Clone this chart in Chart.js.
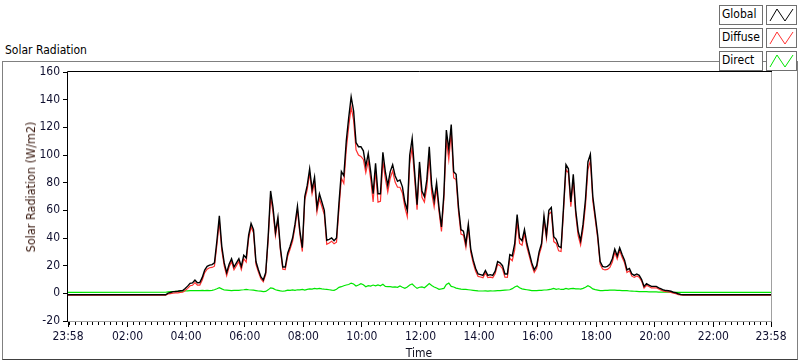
<!DOCTYPE html>
<html>
<head>
<meta charset="utf-8">
<title>Solar Radiation</title>
<script src="https://cdn.jsdelivr.net/npm/chart.js@4.4.1/dist/chart.umd.min.js"></script>
<style>
  body { margin: 0; background: #fff; }
  #wrap { position: relative; width: 800px; height: 361px; overflow: hidden; background: #fff;
          font-family: "DejaVu Sans Condensed", "Liberation Sans Narrow", "Liberation Sans", sans-serif; font-size: 12px; color: #000; }
  #frame { position: absolute; left: 2px; top: 61px; width: 796px; height: 299px; border: 1px solid #808080; border-bottom-color: #404040; box-sizing: border-box; }
  #title { position: absolute; left: 5px; top: 43px; line-height: 14px; }
  #chart { position: absolute; left: 0; top: 0; }
  #ytitle { position: absolute; left: 31px; top: 187px; transform: translate(-50%, -50%) rotate(-90deg); white-space: nowrap; color: #3a1a10; line-height: 14px; font-size: 12.5px; }
  #xtitle { position: absolute; left: 419px; top: 346px; transform: translateX(-50%); line-height: 14px; color: #101020; }
  .lab { position: absolute; left: 719px; width: 44px; height: 20px; border: 1px solid #707070; background: #fff; box-sizing: border-box; padding-left: 2px; line-height: 17px; }
  .ico { position: absolute; left: 766px; width: 31px; height: 20px; border: 1px solid #707070; background: #fff; box-sizing: border-box; }
  .ico svg { position: absolute; left: 0; top: 0; }
</style>
</head>
<body>
<div id="wrap">
  <div id="frame"></div>
  <div id="title">Solar Radiation</div>
  <canvas id="chart" width="800" height="361"></canvas>
  <div id="ytitle">Solar Radiation (W/m2)</div>
  <div id="xtitle">Time</div>
  <div id="legend"></div>
</div>
<script>
// x axis in minutes from 23:58
const tickValues = [0, 122, 242, 362, 482, 602, 722, 842, 962, 1082, 1202, 1322, 1440];
const tickLabels = ['23:58', '02:00', '04:00', '06:00', '08:00', '10:00', '12:00', '14:00', '16:00', '18:00', '20:00', '22:00', '23:58'];
const seriesNames = ['Global', 'Diffuse', 'Direct'];
const seriesColors = ['#000000', '#ff3030', '#00e600'];

// samples every 5 min starting 03:18 (200 min after 23:58)
const sampleStart = 200;
const sampleStep = 5;

const nightGlobal = -1.0;
const nightDiffuse = -1.3;
const nightDirect = 0.7;

const globalVals = [
  -1.0, 0.2, 0.6, 1.2, 1.3, 1.5, 1.9, 2.0, 3.5, 5.2,
  7.2, 7.5, 9.6, 7.6, 7.8, 11.5, 16.8, 19.5, 20.4, 20.8,
  22, 38, 56, 34, 22, 15, 21, 25, 19, 22,
  25, 19.5, 27.5, 25.5, 42, 50.5, 46, 23, 17, 12,
  9.6, 15, 40.8, 74, 62, 44, 55, 33, 19, 19,
  29, 34, 40, 50, 63, 45, 33, 70, 78, 90,
  75, 84, 62, 72, 66, 60, 38.4, 39, 40, 38,
  40, 65, 88, 85, 110, 127, 142, 132, 109, 106,
  106, 103, 92, 101, 88, 72, 94, 72, 72, 102,
  88, 78, 88, 93, 85, 81, 82, 77, 66, 60,
  100, 112, 88, 64, 95, 74, 70, 82, 106, 78,
  67, 80, 62, 48, 72, 118, 104, 122, 88, 86,
  62, 46, 45, 36, 50, 32, 24, 18, 14, 13.5,
  13, 16.5, 13, 13.5, 13, 16, 23, 22, 20, 14,
  14, 28, 27, 36, 57, 40, 38, 46, 36, 29,
  22, 17, 20, 30, 36, 56, 42, 60, 62, 41,
  39, 34, 33, 62, 93, 90, 66, 86, 60, 45,
  38, 50, 68, 95, 100.5, 70, 56, 42, 23, 19.5,
  19, 19.5, 21, 25, 32, 27, 33, 28, 24, 17,
  18, 14, 13, 14, 13, 10, 5, 7, 6, 5,
  5, 5, 4, 3.2, 2.4, 2, 1.9, 1.5, 0.8, 0.4,
  -0.3, -0.8, -1.0
];

const diffuseVals = [
  -1.3, -0.5, -0.2, 0.2, 0.3, 0.4, 0.7, 0.8, 2.0, 3.6,
  5.5, 5.8, 7.8, 6.0, 6.0, 9.6, 15.0, 17.5, 18.5, 18.7,
  19.6, 35, 52, 31, 19.8, 12.8, 19, 23, 17, 20,
  23, 17.2, 25, 22.6, 39.5, 48, 43.8, 21, 15.3, 10.5,
  8.4, 13.6, 38.4, 70, 58.5, 41.5, 52.8, 31.2, 17.5, 17.2,
  26.8, 32, 37.5, 47.8, 60.5, 42.5, 30.2, 67.6, 75, 86.8,
  72, 80.4, 58.7, 68.4, 62.8, 57, 35.5, 36.4, 37.7, 35.8,
  37, 60.7, 83.2, 79.5, 104, 120.6, 134.6, 125.2, 103.7, 100,
  99, 96.8, 87.2, 95.5, 82.8, 66, 88.6, 65.9, 66.5, 95.5,
  83, 73.2, 83.2, 88.5, 80.4, 76.7, 76.7, 72.6, 62.4, 55.4,
  94, 105.3, 83, 60.4, 90.6, 69.4, 66, 76.5, 99, 72.4,
  62.4, 76.2, 59.1, 44.8, 68.4, 111.5, 96.6, 117, 83.4, 82.2,
  58.6, 42.9, 42.1, 33.2, 47.4, 29.6, 21.8, 16, 12.2, 11.8,
  11.3, 14.7, 11.4, 11.7, 11.3, 14.2, 21.1, 20, 17.8, 11.7,
  11.6, 25.4, 23.6, 31.4, 51.7, 36, 34.8, 43.1, 33.4, 26.7,
  20, 15.1, 18.1, 27.9, 33.8, 53.6, 39.6, 57.3, 59, 37.4,
  36.1, 30.7, 30.2, 59.1, 89.5, 87, 62.6, 82.4, 56.8, 41.7,
  34.9, 46.4, 63.6, 89.5, 95.9, 66.8, 53.3, 39.7, 21.1, 17.5,
  16.9, 17.3, 18.7, 22.6, 29.7, 24.8, 30.9, 26, 22.1, 15.1,
  16.3, 12.4, 11.5, 12.6, 11.7, 8.8, 3.8, 5.8, 4.9, 3.9,
  4, 4, 3.1, 2.3, 1.5, 1.2, 1.1, 0.7, 0.1, -0.3,
  -0.9, -1.2, -1.3
];

const directVals = [
  0.8, 1.0, 1.2, 1.3, 1.4, 1.5, 1.5, 1.6, 1.7, 1.8,
  1.9, 1.9, 2.0, 1.9, 2.0, 2.1, 1.9, 2.1, 2.0, 2.2,
  2.6, 3.3, 4.1, 3.2, 2.4, 2.3, 2.2, 2.0, 2.1, 2.2,
  2.1, 2.4, 2.6, 2.9, 2.6, 2.4, 2.3, 2.0, 1.7, 1.6,
  1.3, 1.4, 2.5, 4.0, 3.6, 2.6, 2.2, 1.8, 1.5, 1.8,
  2.3, 2.1, 2.5, 2.2, 2.6, 2.5, 2.8, 2.4, 2.9, 3.2,
  3.0, 3.6, 3.3, 3.6, 3.2, 3.0, 2.9, 2.6, 2.3, 2.2,
  3.0, 4.3, 4.8, 5.5, 6.0, 6.4, 7.4, 6.8, 5.3, 6.0,
  7.0, 6.2, 4.8, 5.5, 5.2, 6.0, 5.4, 6.1, 5.5, 6.5,
  5.0, 4.8, 4.8, 4.5, 4.6, 4.3, 5.3, 4.4, 3.6, 4.6,
  6.0, 6.7, 5.0, 3.6, 4.4, 4.6, 4.0, 5.5, 7.0, 5.6,
  4.6, 3.8, 2.9, 3.2, 3.6, 6.5, 7.4, 5.0, 4.6, 3.8,
  3.4, 3.1, 2.9, 2.8, 2.6, 2.4, 2.2, 2.0, 1.8, 1.7,
  1.7, 1.8, 1.6, 1.8, 1.7, 1.8, 1.9, 2.0, 2.2, 2.3,
  2.4, 2.6, 3.4, 4.6, 5.3, 4.0, 3.2, 2.9, 2.6, 2.3,
  2.0, 1.9, 1.9, 2.1, 2.2, 2.4, 2.4, 2.7, 3.0, 3.6,
  2.9, 3.3, 2.8, 2.9, 3.5, 3.0, 3.4, 3.6, 3.2, 3.3,
  3.1, 3.6, 4.4, 5.5, 4.6, 3.2, 2.7, 2.3, 1.9, 2.0,
  2.1, 2.2, 2.3, 2.4, 2.3, 2.2, 2.1, 2.0, 1.9, 1.9,
  1.7, 1.6, 1.5, 1.4, 1.3, 1.2, 1.2, 1.2, 1.1, 1.1,
  1.0, 1.0, 0.9, 0.9, 0.9, 0.8, 0.8, 0.8, 0.7, 0.7,
  0.7, 0.7, 0.7
];

function toPoints(vals, night) {
  const pts = [{ x: 0, y: night }];
  vals.forEach((v, i) => pts.push({ x: sampleStart + i * sampleStep, y: v }));
  pts.push({ x: 1440, y: night });
  return pts;
}

// minor x ticks every 12 minutes, lined up on the 2 hour marks
const minorTicks = [];
for (let t = 2; t < 1440; t += 12) {
  if (!tickValues.includes(t)) minorTicks.push(t);
}

// legend boxes
const legend = document.getElementById('legend');
seriesNames.forEach((name, i) => {
  const top = 5 + i * 23;
  legend.insertAdjacentHTML('beforeend',
    '<div class="lab" style="top:' + top + 'px">' + name + '</div>' +
    '<div class="ico" style="top:' + top + 'px"><svg width="29" height="18">' +
    '<polyline points="3,15 10,3 18,15 26,3" fill="none" stroke="' + seriesColors[i] + '" stroke-width="1"/></svg></div>');
});

const plotFrame = {
  id: 'plotFrame',
  afterDatasetsDraw(chart) {
    const { ctx, chartArea: a } = chart;
    const xs = chart.scales.x;
    ctx.save();
    ctx.lineWidth = 1;
    ctx.strokeStyle = '#a0a0a0';
    ctx.beginPath();
    ctx.moveTo(a.right + 0.5, a.top);
    ctx.lineTo(a.right + 0.5, a.bottom + 0.5);
    ctx.lineTo(a.left, a.bottom + 0.5);
    ctx.stroke();
    ctx.strokeStyle = '#000';
    ctx.beginPath();
    ctx.moveTo(a.left - 0.5, a.bottom + 1);
    ctx.lineTo(a.left - 0.5, a.top - 0.5);
    ctx.lineTo(a.right + 1, a.top - 0.5);
    ctx.stroke();
    ctx.beginPath();
    minorTicks.forEach(t => {
      const px = Math.round(xs.getPixelForValue(t)) + 0.5;
      ctx.moveTo(px, a.bottom + 1);
      ctx.lineTo(px, a.bottom + 4);
    });
    ctx.stroke();
    ctx.restore();
  }
};

const fontFamily = '"DejaVu Sans Condensed", "Liberation Sans Narrow", "Liberation Sans", sans-serif';
Chart.defaults.font.family = fontFamily;
Chart.defaults.font.size = 12;

new Chart(document.getElementById('chart').getContext('2d'), {
  type: 'line',
  data: {
    datasets: [
      { label: seriesNames[0], data: toPoints(globalVals, nightGlobal), borderColor: seriesColors[0], borderWidth: 1.4 },
      { label: seriesNames[1], data: toPoints(diffuseVals, nightDiffuse), borderColor: seriesColors[1], borderWidth: 1.2 },
      { label: seriesNames[2], data: toPoints(directVals, nightDirect), borderColor: seriesColors[2], borderWidth: 1.2 }
    ]
  },
  options: {
    responsive: false,
    animation: false,
    devicePixelRatio: 1,
    elements: { point: { radius: 0 }, line: { tension: 0 } },
    layout: { padding: { left: 0, right: 29, top: 72, bottom: 0 } },
    plugins: { legend: { display: false }, tooltip: { enabled: false } },
    scales: {
      x: {
        type: 'linear',
        min: 0,
        max: 1440,
        afterBuildTicks: s => { s.ticks = tickValues.map(v => ({ value: v })); },
        afterFit: s => { s.height = 40; },
        ticks: {
          autoSkip: false,
          maxRotation: 0,
          padding: 3,
          color: '#101030',
          callback: (v, i) => tickLabels[i]
        },
        grid: { drawOnChartArea: false, tickLength: 6, color: '#000' },
        border: { display: false }
      },
      y: {
        min: -20,
        max: 160,
        afterFit: s => { s.width = 68; },
        ticks: { stepSize: 20, padding: 3, color: '#101030' },
        grid: { drawOnChartArea: false, tickLength: 5, color: '#000' },
        border: { display: false }
      }
    }
  },
  plugins: [plotFrame]
});
</script>
</body>
</html>
